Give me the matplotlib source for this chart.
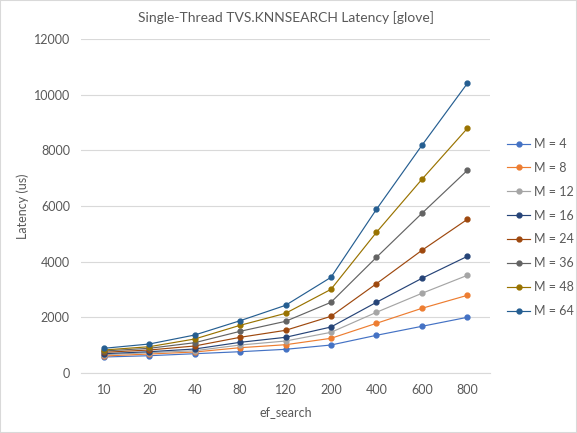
import matplotlib
matplotlib.use('Agg')
import matplotlib.pyplot as plt
from matplotlib.patches import Rectangle

# Données
ef_search = ['10', '20', '40', '80', '120', '200', '400', '600', '800']
m_labels = ['M = 4', 'M = 8', 'M = 12', 'M = 16', 'M = 24', 'M = 36', 'M = 48', 'M = 64']

lat_m4 = [575, 621, 693, 765, 851, 1005, 1354, 1677, 2000]
lat_m8 = [610, 682, 754, 909, 1016, 1246, 1785, 2323, 2790]
lat_m12 = [657, 729, 800, 1005, 1149, 1461, 2180, 2862, 3508]
lat_m16 = [693, 765, 862, 1102, 1282, 1652, 2539, 3400, 4190]
lat_m24 = [743, 826, 970, 1282, 1533, 2036, 3207, 4406, 5519]
lat_m36 = [790, 887, 1088, 1497, 1856, 2539, 4154, 5734, 7278]
lat_m48 = [826, 944, 1221, 1713, 2144, 3005, 5052, 6955, 8786]
lat_m64 = [887, 1041, 1364, 1878, 2431, 3436, 5878, 8176, 10402]

series = [lat_m4, lat_m8, lat_m12, lat_m16, lat_m24, lat_m36, lat_m48, lat_m64]
couleurs = ['#4472C4', '#ED7D31', '#A5A5A5', '#264478',
            '#9E480E', '#636363', '#997300', '#255E91']

plt.rcParams['font.family'] = ['Lato', 'DejaVu Sans']
gris_texte = '#595959'
gris_grille = '#D9D9D9'

fig = plt.figure(figsize=(5.77, 4.33), dpi=100)
ax = fig.add_axes([81 / 577, 60 / 433, 409 / 577, 334 / 433])

x = range(len(ef_search))
for vals, lab, c in zip(series, m_labels, couleurs):
    ax.plot(x, vals, color=c, lw=0.85, marker='o', markersize=3.5, label=lab)

ax.set_xlim(-0.5, len(ef_search) - 0.5)
ax.set_ylim(0, 12000)
ax.set_yticks(range(0, 12001, 2000))
ax.set_xticks(list(x))
ax.set_xticklabels(ef_search)
ax.grid(axis='y', color=gris_grille, lw=0.8)
ax.set_axisbelow(True)
for s in ['top', 'right', 'left']:
    ax.spines[s].set_visible(False)
ax.spines['bottom'].set_color(gris_grille)
ax.tick_params(length=0, colors=gris_texte, labelsize=9, pad=8)

ax.set_xlabel('ef_search', color=gris_texte, fontsize=9, labelpad=7)
ax.set_ylabel('Latency (us)', color=gris_texte, fontsize=9, labelpad=3)
ax.set_title('Single-Thread TVS.KNNSEARCH Latency [glove]', color=gris_texte,
             fontsize=10, pad=12)

fig.legend(loc='center left', bbox_to_anchor=(496 / 577, 1 - 227.5 / 433),
           frameon=False, fontsize=9, labelcolor=gris_texte,
           handlelength=1.8, handletextpad=0.3, labelspacing=0.95)

# Bordure de la zone du graphique
fig.patches.append(Rectangle((0, 0), 1, 1, transform=fig.transFigure,
                             fill=False, edgecolor=gris_grille, lw=1.5))

fig.savefig('out.png', dpi=100)
